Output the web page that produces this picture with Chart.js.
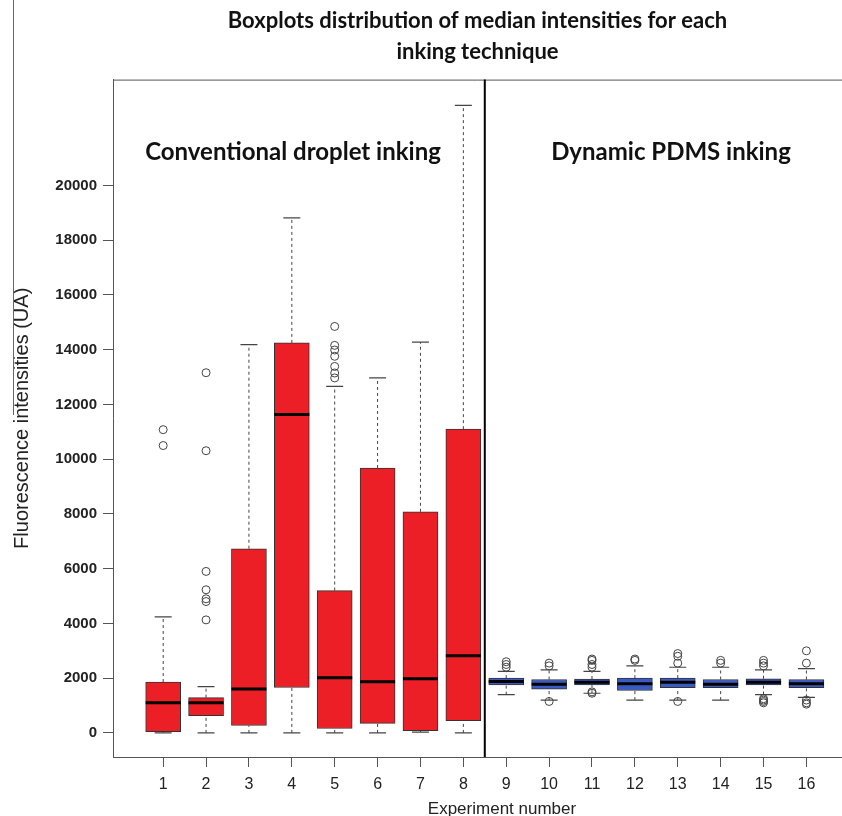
<!DOCTYPE html>
<html>
<head>
<meta charset="utf-8">
<title>Boxplots distribution of median intensities</title>
<script src="https://cdn.jsdelivr.net/npm/chart.js@4"></script>
<style>
  html, body { margin: 0; padding: 0; background: #fff; overflow: hidden; }
  #wrap { width: 842px; height: 816px; position: relative; }
  #chart { display: block; }
</style>
</head>
<body>
<div id="wrap"><canvas id="chart"></canvas></div>
<script>
// experiment numbers 1-8 conventional droplet inking, 9-16 dynamic PDMS inking
const experiments = [1, 2, 3, 4, 5, 6, 7, 8, 9, 10, 11, 12, 13, 14, 15, 16];
const boxMin    = [0, 0, 0, 0, 0, 0, 30, 0, 1400, 1200, 1450, 1200, 1200, 1200, 1400, 1300];
const boxQ1     = [50, 630, 270, 1660, 160, 350, 85, 450, 1750, 1600, 1750, 1550, 1650, 1650, 1750, 1650];
const boxMedian = [1100, 1100, 1600, 11630, 2020, 1870, 1980, 2820, 1880, 1780, 1850, 1800, 1850, 1780, 1850, 1800];
const boxQ3     = [1860, 1290, 6730, 14250, 5200, 9680, 8080, 11100, 2000, 1950, 1970, 2000, 2000, 1950, 1980, 1950];
const boxMax    = [4240, 1690, 14190, 18820, 12660, 12970, 14280, 22930, 2250, 2300, 2250, 2450, 2400, 2400, 2300, 2350];
const outliers = [
  [11080, 10500],
  [13160, 10310, 5900, 5230, 4900, 4800, 4130],
  [],
  [],
  [14850, 14160, 13990, 13760, 13390, 13150, 12970],
  [],
  [],
  [],
  [2400, 2500, 2600],
  [2450, 2550, 1150],
  [2400, 2500, 2650, 2700, 1450, 1500],
  [2650, 2700],
  [2550, 2800, 2900, 1150],
  [2550, 2650],
  [2450, 2550, 2650, 1250, 1200, 1150, 1100],
  [2550, 3000, 1200, 1100, 1050]
];
const yTicks = [0, 2000, 4000, 6000, 8000, 10000, 12000, 14000, 16000, 18000, 20000];
const groupLabels = ['Conventional droplet inking', 'Dynamic PDMS inking'];

const RED = '#ec1f26';
const BLUE = '#3a5bc4';
const boxColors = experiments.map((e) => (e <= 8 ? RED : BLUE));

const whiskerData = [];
const capData = [];
const outlierData = [];
experiments.forEach((e, i) => {
  whiskerData.push({ x: e, y: boxQ3[i] }, { x: e, y: boxMax[i] }, { x: e, y: null });
  whiskerData.push({ x: e, y: boxMin[i] }, { x: e, y: boxQ1[i] }, { x: e, y: null });
  capData.push({ x: e, y: boxMax[i] }, { x: e, y: boxMin[i] });
  outliers[i].forEach((v) => outlierData.push({ x: e, y: v }));
});

const decor = {
  id: 'decor',
  afterDraw(chart) {
    const { ctx, chartArea } = chart;
    const xs = chart.scales.x;
    ctx.save();
    // stray rule at far left
    ctx.strokeStyle = '#666';
    ctx.lineWidth = 1;
    ctx.beginPath();
    ctx.moveTo(13.5, 0);
    ctx.lineTo(13.5, 415);
    ctx.stroke();
    // top frame
    ctx.strokeStyle = '#555';
    ctx.beginPath();
    ctx.moveTo(chartArea.left, chartArea.top + 0.5);
    ctx.lineTo(chartArea.right, chartArea.top + 0.5);
    ctx.stroke();
    // divider between the two techniques
    const xd = xs.getPixelForValue(8.5);
    ctx.strokeStyle = '#000';
    ctx.lineWidth = 2;
    ctx.beginPath();
    ctx.moveTo(xd, chartArea.top);
    ctx.lineTo(xd, chartArea.bottom);
    ctx.stroke();
    // group labels
    ctx.fillStyle = '#111';
    ctx.font = 'bold 24px Lato, "Noto Sans", sans-serif';
    ctx.textAlign = 'center';
    ctx.textBaseline = 'middle';
    ctx.fillText(groupLabels[0], 293, 152);
    ctx.fillText(groupLabels[1], 671, 152);
    // x axis title
    ctx.fillStyle = '#222';
    ctx.font = '17px "Liberation Sans", Arial, sans-serif';
    ctx.fillText('Experiment number', 502, 809);
    ctx.restore();
  }
};

new Chart(document.getElementById('chart'), {
  type: 'bar',
  data: {
    datasets: [
      {
        type: 'line',
        data: whiskerData,
        borderColor: '#444',
        borderWidth: 1,
        borderDash: [3, 3],
        pointRadius: 0,
        spanGaps: false,
        order: 5
      },
      {
        type: 'scatter',
        data: capData,
        pointStyle: 'line',
        pointRadius: 8.5,
        borderColor: '#444',
        borderWidth: 1.2,
        order: 4
      },
      {
        type: 'bar',
        data: experiments.map((e, i) => ({ x: e, y: [boxQ1[i], boxQ3[i]] })),
        backgroundColor: boxColors,
        borderColor: '#333',
        borderWidth: 1,
        borderSkipped: false,
        barThickness: 35,
        order: 3
      },
      {
        type: 'scatter',
        data: experiments.map((e, i) => ({ x: e, y: boxMedian[i] })),
        pointStyle: 'line',
        pointRadius: 17.5,
        borderColor: '#000',
        borderWidth: 3,
        order: 2
      },
      {
        type: 'scatter',
        data: outlierData,
        pointStyle: 'circle',
        pointRadius: 4,
        backgroundColor: 'rgba(0,0,0,0)',
        borderColor: '#444',
        borderWidth: 1,
        order: 1
      }
    ]
  },
  options: {
    responsive: true,
    maintainAspectRatio: false,
    animation: false,
    layout: { padding: 0, autoPadding: false },
    plugins: {
      legend: { display: false },
      tooltip: { enabled: false },
      title: {
        display: true,
        fullSize: false,
        text: ['Boxplots distribution of median intensities for each', 'inking technique'],
        color: '#111',
        font: { family: 'Lato, "Noto Sans", sans-serif', size: 22, weight: 'bold', lineHeight: 1.4 },
        padding: { top: 6, bottom: 12 }
      }
    },
    scales: {
      x: {
        type: 'linear',
        min: -0.17,
        max: 16.83,
        offset: false,
        afterBuildTicks: (s) => { s.ticks = experiments.map((v) => ({ value: v })); },
        afterFit: (s) => { s.height = 59; s.paddingLeft = 0; s.paddingRight = 0; },
        ticks: {
          color: '#222',
          font: { family: '"Liberation Sans", Arial, sans-serif', size: 16 },
          padding: 8,
          autoSkip: false,
          maxRotation: 0
        },
        grid: { drawOnChartArea: false, drawTicks: true, tickLength: 10, tickColor: '#555', offset: false },
        border: { display: true, color: '#555', width: 1 }
      },
      y: {
        type: 'linear',
        min: -880,
        max: 23870,
        afterBuildTicks: (s) => { s.ticks = yTicks.map((v) => ({ value: v })); },
        afterFit: (s) => { s.width = 113; s.paddingTop = 0; s.paddingBottom = 0; },
        title: {
          display: true,
          text: 'Fluorescence intensities (UA)',
          color: '#222',
          font: { family: '"Liberation Sans", Arial, sans-serif', size: 20 },
          padding: { top: 10, bottom: 0 }
        },
        ticks: {
          color: '#222',
          font: { family: '"Liberation Sans", Arial, sans-serif', size: 15, weight: 'bold' },
          padding: 6,
          callback: (v) => String(v)
        },
        grid: { drawOnChartArea: false, drawTicks: true, tickLength: 10, tickColor: '#555' },
        border: { display: true, color: '#555', width: 1 }
      }
    }
  },
  plugins: [decor]
});
</script>
</body>
</html>
